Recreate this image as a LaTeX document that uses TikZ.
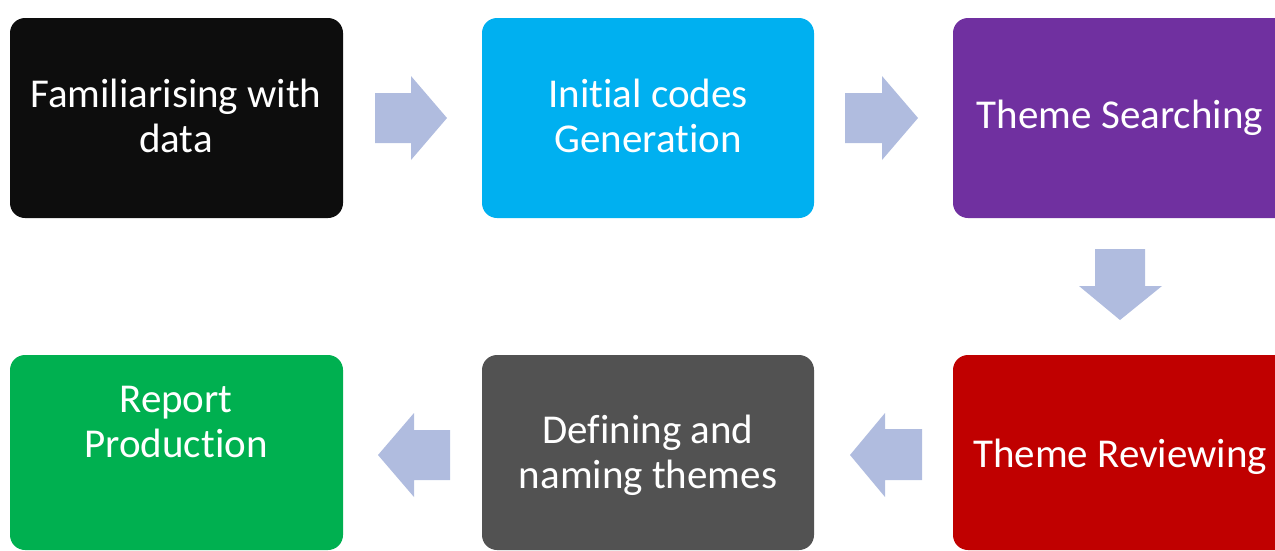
\documentclass[tikz,border=0pt]{standalone}
\usepackage{fontspec}
\setmainfont{Carlito}[Ligatures={NoCommon}]
\definecolor{arrowc}{HTML}{B0BCDF}
\definecolor{cblack}{HTML}{0D0D0D}
\definecolor{ccyan}{HTML}{00B0F0}
\definecolor{cpurple}{HTML}{7030A0}
\definecolor{cred}{HTML}{C00000}
\definecolor{cgray}{HTML}{525252}
\definecolor{cgreen}{HTML}{00B050}
\begin{document}
\begin{tikzpicture}[x=1pt,y=-1pt,
  box/.style={rounded corners=15pt},
  lbl/.style={text=white,font=\fontsize{41}{45}\selectfont,align=center,anchor=base,inner sep=0pt},
  blk/.style={fill=arrowc}]
\useasboundingbox (0,0) rectangle (1275,550);
\clip (0,0) rectangle (1275,550);
% boxes
\fill[box,cblack] (10,18) rectangle (343,218);
\fill[box,ccyan] (482,18) rectangle (814,218);
\fill[box,cpurple] (953,18) rectangle (1290,218);
\fill[box,cred] (953,355) rectangle (1290,550);
\fill[box,cgray] (482,355) rectangle (814,550);
\fill[box,cgreen] (10,355) rectangle (343,550);
% labels (base anchor = last line)
\node[lbl] (t1) at (176,152) {Familiarising with\\data};
\node[lbl] (t2) at (648,152) {Initial codes\\Generation};
\node[lbl] (t3) at (1120,128) {Theme Searching};
\node[lbl] (t4) at (1120,467) {Theme Reviewing};
\node[lbl] (t5) at (648,488) {Defining and\\naming themes};
\node[lbl] (t6) at (176,457) {Report\\Production};
% block arrows
\fill[blk] (375,93) -- (411,93) -- (411,76) -- (447,118) -- (411,160) -- (411,143) -- (375,143) -- cycle;
\fill[blk] (845,93) -- (882,93) -- (882,76) -- (918,118) -- (882,160) -- (882,143) -- (845,143) -- cycle;
\fill[blk] (1095,249) -- (1145,249) -- (1145,286) -- (1162,286) -- (1120,320) -- (1079,286) -- (1095,286) -- cycle;
\fill[blk] (450,430) -- (414,430) -- (414,413) -- (378,455) -- (414,497) -- (414,480) -- (450,480) -- cycle;
\fill[blk] (922,429) -- (885,429) -- (885,413) -- (850,455) -- (885,497) -- (885,480) -- (922,480) -- cycle;
\end{tikzpicture}
\end{document}
